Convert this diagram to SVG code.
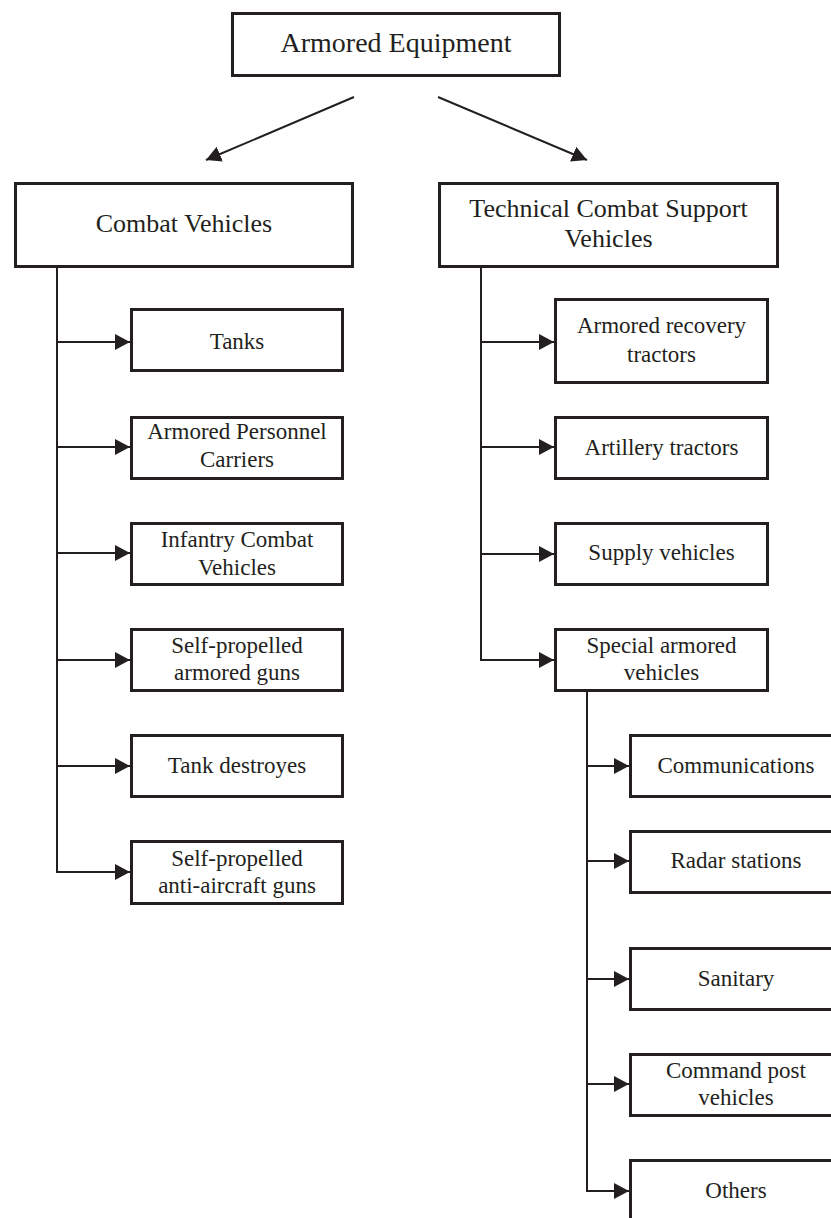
<svg xmlns="http://www.w3.org/2000/svg" width="831" height="1218" viewBox="0 0 831 1218">
<defs>
<style>
.box{fill:#fff;stroke:#231f20;stroke-width:3}
.t0{font-family:"Liberation Serif","Times New Roman",serif;font-size:28px;fill:#231f20;text-anchor:middle}
.t1{font-family:"Liberation Serif","Times New Roman",serif;font-size:26px;fill:#231f20;text-anchor:middle}
.t2{font-family:"Liberation Serif","Times New Roman",serif;font-size:23px;fill:#231f20;text-anchor:middle}
.ln{fill:none;stroke:#231f20;stroke-width:2}
.ar{fill:none;stroke:#231f20;stroke-width:2;marker-end:url(#ah)}
</style>
<marker id="ah" viewBox="0 0 15 16" refX="15" refY="8" markerWidth="15" markerHeight="16" markerUnits="userSpaceOnUse" orient="auto">
<path d="M0,0 L15,8 L0,16 z" fill="#231f20"/>
</marker>
</defs>
<rect width="831" height="1218" fill="#fff"/>
<g id="connectors">
<line class="ar" x1="354" y1="97" x2="206" y2="160"/>
<line class="ar" x1="438" y1="97" x2="587" y2="160"/>
<path class="ln" d="M57,268 V872 H70"/>
<line class="ar" x1="57" y1="342" x2="130" y2="342"/>
<line class="ar" x1="57" y1="447" x2="130" y2="447"/>
<line class="ar" x1="57" y1="553" x2="130" y2="553"/>
<line class="ar" x1="57" y1="660" x2="130" y2="660"/>
<line class="ar" x1="57" y1="766" x2="130" y2="766"/>
<line class="ar" x1="57" y1="872" x2="130" y2="872"/>
<path class="ln" d="M481,268 V660 H490"/>
<line class="ar" x1="481" y1="342" x2="554" y2="342"/>
<line class="ar" x1="481" y1="447" x2="554" y2="447"/>
<line class="ar" x1="481" y1="554" x2="554" y2="554"/>
<line class="ar" x1="481" y1="660" x2="554" y2="660"/>
<path class="ln" d="M587,692 V1191 H600"/>
<line class="ar" x1="587" y1="766" x2="629" y2="766"/>
<line class="ar" x1="587" y1="861" x2="629" y2="861"/>
<line class="ar" x1="587" y1="979" x2="629" y2="979"/>
<line class="ar" x1="587" y1="1084" x2="629" y2="1084"/>
<line class="ar" x1="587" y1="1191" x2="629" y2="1191"/>
</g>
<g id="root"><rect class="box" x="232.5" y="13.5" width="327" height="62"/><text class="t0" x="396" y="52">Armored Equipment</text></g>
<g id="combat"><rect class="box" x="15.5" y="183.5" width="337" height="83"/><text class="t1" x="184" y="232">Combat Vehicles</text></g>
<g id="technical"><rect class="box" x="439.5" y="183.5" width="338" height="83"/><text class="t1" x="608.5" y="217">Technical Combat Support</text><text class="t1" x="608.5" y="247">Vehicles</text></g>
<g id="tanks"><rect class="box" x="131.5" y="309.5" width="211" height="61"/><text class="t2" x="237" y="349">Tanks</text></g>
<g id="apc"><rect class="box" x="131.5" y="417.5" width="211" height="61"/><text class="t2" x="237" y="439">Armored Personnel</text><text class="t2" x="237" y="467">Carriers</text></g>
<g id="icv"><rect class="box" x="131.5" y="523.5" width="211" height="61"/><text class="t2" x="237" y="547">Infantry Combat</text><text class="t2" x="237" y="575">Vehicles</text></g>
<g id="spag"><rect class="box" x="131.5" y="629.5" width="211" height="61"/><text class="t2" x="237" y="653">Self-propelled</text><text class="t2" x="237" y="680">armored guns</text></g>
<g id="td"><rect class="box" x="131.5" y="735.5" width="211" height="61"/><text class="t2" x="237" y="773">Tank destroyes</text></g>
<g id="spaa"><rect class="box" x="131.5" y="841.5" width="211" height="62"/><text class="t2" x="237" y="866">Self-propelled</text><text class="t2" x="237" y="893">anti-aircraft guns</text></g>
<g id="art"><rect class="box" x="555.5" y="299.5" width="212" height="83"/><text class="t2" x="661.5" y="333">Armored recovery</text><text class="t2" x="661.5" y="362">tractors</text></g>
<g id="arttr"><rect class="box" x="555.5" y="417.5" width="212" height="61"/><text class="t2" x="661.5" y="455">Artillery tractors</text></g>
<g id="supply"><rect class="box" x="555.5" y="523.5" width="212" height="61"/><text class="t2" x="661.5" y="560">Supply vehicles</text></g>
<g id="special"><rect class="box" x="555.5" y="629.5" width="212" height="61"/><text class="t2" x="661.5" y="653">Special armored</text><text class="t2" x="661.5" y="680">vehicles</text></g>
<g id="comm"><rect class="box" x="630.5" y="735.5" width="213" height="61"/><text class="t2" x="736" y="773">Communications</text></g>
<g id="radar"><rect class="box" x="630.5" y="831.5" width="213" height="61"/><text class="t2" x="736" y="868">Radar stations</text></g>
<g id="sanitary"><rect class="box" x="630.5" y="948.5" width="213" height="61"/><text class="t2" x="736" y="986">Sanitary</text></g>
<g id="command"><rect class="box" x="630.5" y="1054.5" width="213" height="61"/><text class="t2" x="736" y="1078">Command post</text><text class="t2" x="736" y="1105">vehicles</text></g>
<g id="others"><rect class="box" x="630.5" y="1160.5" width="213" height="62"/><text class="t2" x="736" y="1198">Others</text></g>
</svg>
